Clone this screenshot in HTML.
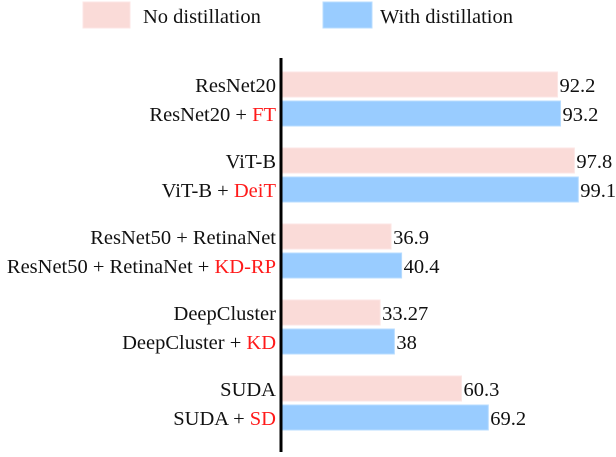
<!DOCTYPE html>
<html><head><meta charset="utf-8"><style>
body{margin:0;background:#fff;}
svg text{font-family:"Liberation Serif","Times New Roman",Times,serif;font-size:20.5px;fill:#111;}
</style></head><body>
<svg width="616" height="452" font-family="Liberation Serif, Times New Roman, serif">
<g>
<rect x="83" y="2" width="47" height="26" fill="#fadbd8" stroke="#fce6e4"/>
<text x="143" y="23">No distillation</text>
<rect x="323" y="2" width="49" height="26" fill="#99ccff" stroke="#b8dcff"/>
<text x="380" y="23">With distillation</text>
</g>
<g id="bars"></g>
<line x1="281" y1="58" x2="281" y2="452" stroke="#000" stroke-width="3"/>
</svg>
<script>
const baseNames=["ResNet20","ViT-B","ResNet50 + RetinaNet","DeepCluster","SUDA"];
const methods=["FT","DeiT","KD-RP","KD","SD"];
const baseValues=[92.2,97.8,36.9,33.27,60.3];
const distValues=[93.2,99.1,40.4,38,69.2];
const baseLabels=["92.2","97.8","36.9","33.27","60.3"];
const distLabels=["93.2","99.1","40.4","38","69.2"];
const NS="http://www.w3.org/2000/svg";
const g=document.getElementById('bars');
function xs(v){return 280+v*3.01;}
function mk(tag,attrs){const e=document.createElementNS(NS,tag);for(const k in attrs)e.setAttribute(k,attrs[k]);return e;}
baseNames.forEach((n,i)=>{
  const y0=72+i*76;
  [[baseValues[i],baseLabels[i],'#fadbd8','#fce6e4',0],[distValues[i],distLabels[i],'#99ccff','#b8dcff',1]].forEach(([v,l,c,s,k])=>{
    const y=y0+k*29;
    const r=mk('rect',{x:282,y:y,width:xs(v)-282,height:25,fill:c,stroke:s});
    
    
    g.appendChild(r);
    const t=mk('text',{x:xs(v)+2,y:y+20});
    t.textContent=l;
    
    
    g.appendChild(t);
    const lab=mk('text',{x:276,y:y+20,'text-anchor':'end'});
    
    
    if(k){
      lab.appendChild(document.createTextNode(n+' + '));
      const sp=mk('tspan',{fill:'#ff1a1a'});sp.style.fill='#ff1a1a';sp.textContent=methods[i];
      lab.appendChild(sp);
    } else lab.textContent=n;
    g.appendChild(lab);
  });
});
</script>
</body></html>
